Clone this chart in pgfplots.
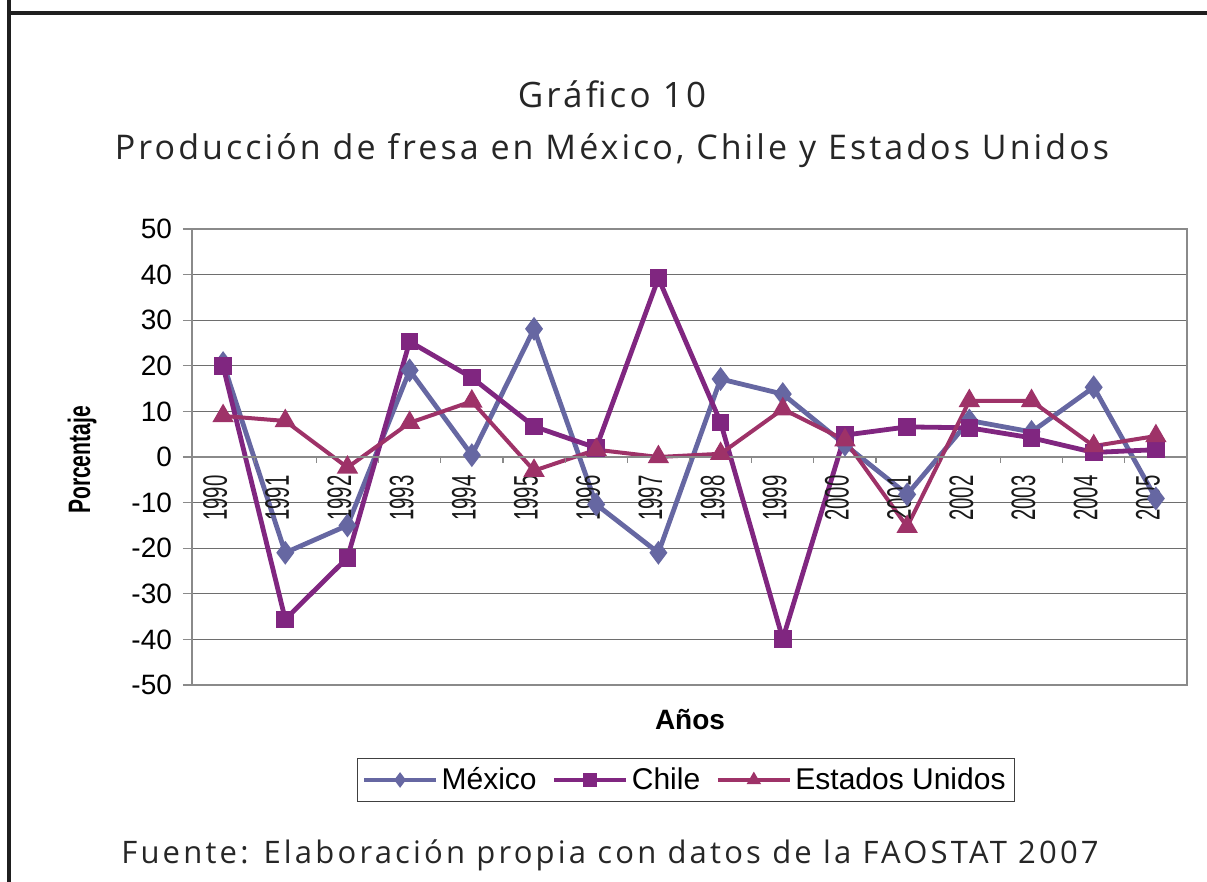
\documentclass[border=0pt]{standalone}
\usepackage{pgfplots}
\pgfplotsset{compat=1.18}
\usepackage{fontspec}
\setmainfont{Liberation Sans}
\newfontfamily\titlefont[LetterSpace=9]{Open Sans}
\newfontfamily\footfont[LetterSpace=10.3]{Open Sans}
\definecolor{cmex}{HTML}{6667A2}
\definecolor{cchi}{HTML}{802680}
\definecolor{ceu}{HTML}{9E3268}
\definecolor{cgrid}{HTML}{6E6E6E}
\definecolor{caxis}{HTML}{8A8A8A}
\begin{document}
\begin{tikzpicture}
\begin{scope}[x=0.5pt,y=0.5pt]
\path[use as bounding box] (0,0) rectangle (1207,882);
\draw[line width=2pt,color={black!88}] (9,882) -- (9,869) -- (1207,869);
\draw[line width=2pt,color={black!88}] (9,869) -- (9,0);
\node[font=\titlefont\fontsize{17.5}{20}\selectfont, text=black!85] at (612,788) {Gráfico 10};
\node[font=\titlefont\fontsize{17}{20}\selectfont, text=black!85] at (612,731) {Producción de fresa en México, Chile y Estados Unidos};
\node[font=\footfont\fontsize{15.5}{18}\selectfont, text=black!85] at (610,27) {Fuente: Elaboración propia con datos de la FAOSTAT 2007};
\node[rotate=90, font=\bfseries\fontsize{15.5}{18}\selectfont] at (82,422) {\scalebox{0.68}[1]{Porcentaje}};
\node[font=\bfseries\fontsize{14}{17}\selectfont] at (690,162) {Años};
\end{scope}
\begin{axis}[
  at={(96pt,98.5pt)}, anchor=south west,
  scale only axis, width=497.5pt, height=228pt,
  xmin=-0.5, xmax=15.5, ymin=-50, ymax=50,
  xtick=\empty,
  ytick={-50,-40,...,50},
  ytick pos=left, tick align=outside,
  major tick length=4.5pt,
  every tick/.style={caxis, line width=0.6pt},
  ymajorgrids, grid style={cgrid, line width=0.5pt},
  axis line style={caxis, line width=1pt},
  /pgf/number format/assume math mode=true,
  yticklabel style={font=\fontsize{14}{16}\selectfont, xshift=-2pt},
  legend columns=3,
  legend style={at={(0.4965,-0.2083)}, anchor=center, draw=black!75, line width=0.5pt,
    font=\fontsize{15}{18}\selectfont, inner sep=2.5pt,
    /tikz/every even column/.append style={column sep=6pt}},
  legend image code/.code={\draw[mark repeat=2,mark phase=2] plot coordinates {(0pt,0pt)(18pt,0pt)(36pt,0pt)};},
  legend image post style={mark size=2.6pt, line width=1.6pt},
  clip=false,
]
\addplot[cmex, line width=2.4pt, mark=diamond*, mark size=4pt, mark options={solid}] coordinates {
 (0,20.6) (1,-21) (2,-15) (3,19) (4,0.4) (5,28.1) (6,-10.4) (7,-21) (8,17.1) (9,13.8) (10,2.7) (11,-8.2) (12,8) (13,5.5) (14,15.3) (15,-9.1)};
\addlegendentry{México}
\addplot[cchi, line width=2.4pt, mark=square*, mark size=3.2pt, mark options={solid}] coordinates {
 (0,19.9) (1,-35.6) (2,-22.1) (3,25.3) (4,17.4) (5,6.7) (6,2) (7,39.2) (8,7.6) (9,-39.9) (10,4.8) (11,6.6) (12,6.4) (13,4.2) (14,1) (15,1.6)};
\addlegendentry{Chile}
\addplot[ceu, line width=2pt, mark=triangle*, mark size=4.2pt, mark options={solid}] coordinates {
 (0,9) (1,7.9) (2,-2.3) (3,7.5) (4,12.2) (5,-3) (6,1.6) (7,0) (8,0.7) (9,10.5) (10,3.7) (11,-15.3) (12,12.3) (13,12.3) (14,2.4) (15,4.6)};
\addlegendentry{Estados Unidos}
\draw[caxis, line width=0.8pt] (axis cs:-0.5,0) -- (axis cs:15.5,0);
\pgfplotsinvokeforeach{0,...,16}{\draw[caxis, line width=0.6pt] (axis cs:#1-0.5,0) -- ++(0pt,-3pt);}
\pgfplotsinvokeforeach{0,...,15}{\node[rotate=90, anchor=east, inner sep=0pt, font=\fontsize{17}{20}\selectfont, text=black!90] at ([xshift=-4pt,yshift=-9pt]axis cs:#1,0) {\scalebox{0.6}[1]{\the\numexpr1990+#1\relax}};}
\end{axis}
\end{tikzpicture}
\end{document}
